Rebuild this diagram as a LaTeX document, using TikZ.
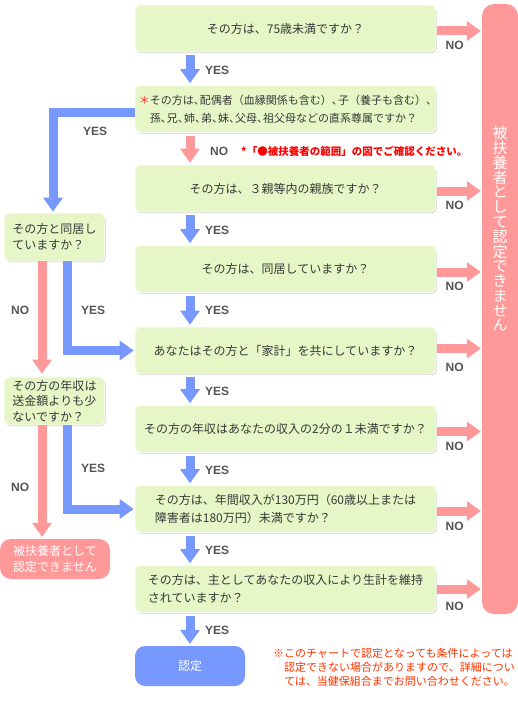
\documentclass[tikz,border=0pt]{standalone}
\usepackage{fontspec}
\newfontfamily\jpf{Noto Sans CJK JP}
\newfontfamily\labf{Liberation Sans}
\usetikzlibrary{arrows.meta,shadows}
\definecolor{boxg}{HTML}{E6F6C6}
\definecolor{blu}{HTML}{7799FF}
\definecolor{redc}{HTML}{FF9999}
\definecolor{txt}{HTML}{383838}
\definecolor{labc}{HTML}{555555}
\definecolor{notec}{HTML}{FF3300}
\definecolor{astc}{HTML}{FF2222}
\newcommand\hcm{\makebox[0.55em][l]{、}}
\begin{document}
\begin{tikzpicture}[x=1pt,y=-1pt,
  qbox/.style={rounded corners=5pt, fill=boxg, draw=white, line width=0.8pt,
    drop shadow={shadow xshift=0.8pt, shadow yshift=-1.2pt, opacity=0.35, fill=black!50},
    inner sep=0pt, text=txt, align=center, font=\jpf\fontsize{12}{18}\selectfont},
  mbox/.style={qbox, minimum width=301pt, minimum height=47pt},
  sbox/.style={qbox, minimum width=101pt, minimum height=48pt, align=left,
    font=\jpf\fontsize{12}{15.5}\selectfont},
  yarr/.style={draw=blu, line width=9pt, -{Triangle[width=20pt,length=14pt,line width=0pt]}},
  narr/.style={draw=redc, line width=9pt, -{Triangle[width=20pt,length=14pt,line width=0pt]}},
  lab/.style={font=\labf\bfseries\fontsize{12}{12}\selectfont, text=labc, inner sep=0pt, anchor=west},
  endbox/.style={inner sep=0pt, text=white, align=center, font=\jpf\fontsize{12}{16}\selectfont},
]
\useasboundingbox (0,0) rectangle (518,709);

\coordinate (cx) at (190,0);

% main question boxes
\node[mbox] (b1) at (285.5,28.5) {その方は、75歳未満ですか？};
\node[mbox, align=left, font=\jpf\fontsize{11}{18}\selectfont] (b2) at (285.5,109)
  {\makebox[11pt][l]{\textcolor{astc}{＊}}その方は\hcm 配偶者（血縁関係も含む）\hcm 子（養子も含む）\hcm\\\hspace*{11pt}孫\hcm 兄\hcm 姉\hcm 弟\hcm 妹\hcm 父母\hcm 祖父母などの直系尊属ですか？};
\node[mbox] (b3) at (285.5,188.5) {その方は、３親等内の親族ですか？};
\node[mbox] (b4) at (285.5,269) {その方は、同居していますか？};
\node[mbox] (b5) at (285.5,350.5) {あなたはその方と「家計」を共にしていますか？};
\node[mbox] (b6) at (285.5,429) {その方の年収はあなたの収入の2分の１未満ですか？};
\node[mbox, align=left] (b7) at (285.5,509) {その方は、年間収入が130万円（60歳以上または\\障害者は180万円）未満ですか？};
\node[mbox, align=left] (b8) at (285.5,589) {その方は、主としてあなたの収入により生計を維持\\されていますか？};

% left boxes
\node[sbox] (la) at (54.5,237) {その方と同居し\\ていますか？};
\node[sbox] (lb) at (54.5,401) {その方の年収は\\送金額よりも少\\ないですか？};

% end boxes
\node[endbox, fill=redc, rounded corners=11pt, minimum width=110pt, minimum height=40pt] (lr) at (55,559) {被扶養者として\\認定できません};
\node[endbox, fill=blu, rounded corners=10pt, minimum width=110pt, minimum height=40pt] (nin) at (190,666) {認定};
\node[fill=redc, rounded corners=12pt, minimum width=36pt, minimum height=610pt, inner sep=0pt] (bar) at (500,309) {};
\foreach \c [count=\i from 0] in {被,扶,養,者,と,し,て,認,定,で,き,ま,せ,ん}
  \node[text=white, font=\jpf\fontsize{15}{15}\selectfont, inner sep=0pt] (v\i) at (500,{133+14.8*\i}) {\c};

% down arrows in main column
\draw[yarr, shorten <=3pt, shorten >=2pt] (b1.south -| cx) -- (b2.north -| cx);
\node[lab] at (205,70) {YES};
\draw[narr, shorten <=3pt, shorten >=2pt] (b2.south -| cx) -- (b3.north -| cx);
\node[lab] at (210,151) {NO};
\foreach \a/\b/\y in {b3/b4/230, b4/b5/310, b5/b6/391, b6/b7/470, b7/b8/550, b8/nin/630}{
  \draw[yarr, shorten <=3pt, shorten >=2pt] (\a.south -| cx) -- (\b.north -| cx);
  \node[lab] at (205,\y) {YES};
}

% right NO arrows
\foreach \b/\s in {b1/-2.5, b3/-2.5, b4/-3, b5/2, b6/-2.5, b7/-2, b8/0}{
  \draw[narr, shorten <=1pt, shorten >=1pt] ([yshift=\s pt]\b.east) -- ([yshift=\s pt]\b.east -| bar.west);
  \node[lab] at ([xshift=9pt,yshift=-17pt]\b.east) {NO};
}

% left branch
\draw[yarr, shorten >=1pt] ([yshift=-3pt]b2.west) -| ([xshift=-1.5pt]la.north);
\node[lab] at (83,131) {YES};
\draw[narr, shorten >=3pt] ([xshift=-12.5pt]la.south) -- ([xshift=-12.5pt]lb.north);
\node[lab] at (11,310) {NO};
\draw[yarr, shorten >=1pt] ([xshift=12.5pt]la.south) |- (b5.west);
\node[lab] at (81,310) {YES};
\draw[narr, shorten >=2pt] ([xshift=-12.5pt]lb.south) -- ([xshift=-12.5pt]lb.south |- lr.north);
\node[lab] at (11,487) {NO};
\draw[yarr, shorten >=1pt] ([xshift=12.5pt]lb.south) |- (b7.west);
\node[lab] at (81,468) {YES};

% notes
\node[anchor=west, text=red, font=\jpf\bfseries\fontsize{10.5}{10.5}\selectfont, inner sep=0pt] (fn) at (241,151)
  {*「●被扶養者の範囲」の図でご確認ください。};
\node[anchor=west, align=left, text=notec, font=\jpf\fontsize{11}{14}\selectfont, inner sep=0pt] (nt) at (273,667)
  {※このチャートで認定となっても条件によっては\\\hspace*{1em}認定できない場合がありますので、詳細につい\\\hspace*{1em}ては、当健保組合までお問い合わせください。};
\end{tikzpicture}
\end{document}
